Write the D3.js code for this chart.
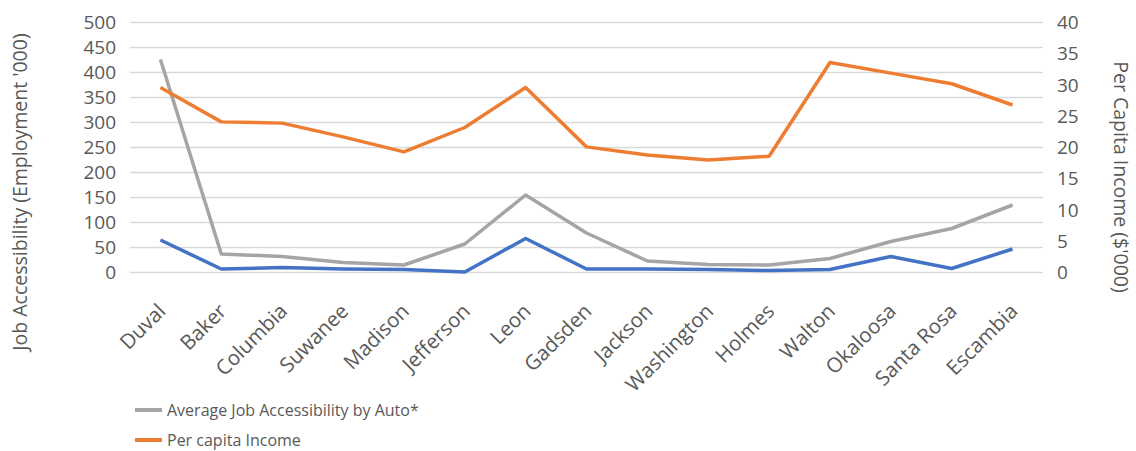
<!DOCTYPE html>
<html>
<head>
<meta charset="utf-8">
<script src="https://cdn.jsdelivr.net/npm/d3@7"></script>
<style>
    body { margin: 0; background: #fff; }
    svg { display: block; font-family: "Open Sans", sans-serif; }
</style>
</head>
<body>
<script>
const counties = ["Duval", "Baker", "Columbia", "Suwanee", "Madison", "Jefferson", "Leon", "Gadsden",
    "Jackson", "Washington", "Holmes", "Walton", "Okaloosa", "Santa Rosa", "Escambia"];
const autoAccess = [426, 37, 32, 20, 15, 57, 155, 79, 23, 16, 15, 28, 62, 88, 135];
const transitAccess = [65, 7, 10, 7, 6, 1, 68, 7, 7, 6, 4, 6, 32, 8, 47];
const income = [29.6, 24.1, 23.9, 21.7, 19.3, 23.2, 29.6, 20.1, 18.8, 18.0, 18.6, 33.6, 31.9, 30.2, 26.8];
const leftTicks = [0, 50, 100, 150, 200, 250, 300, 350, 400, 450, 500];
const rightTicks = [0, 5, 10, 15, 20, 25, 30, 35, 40];

const W = 1136, H = 451;
const margin = {left : 130, top : 22.5, right : 93, bottom : 178.5};
const width = W - margin.left - margin.right;
const height = H - margin.top - margin.bottom;

const textColor = "#595959";

const svg = d3.select("body").append("svg")
    .attr('width', W)
    .attr('height', H);

const g = svg.append("g")
    .attr('transform', `translate(${margin.left}, ${margin.top})`);

// Scales
const x = d3.scalePoint()
    .domain(counties)
    .range([0, width])
    .padding(0.5);

const yL = d3.scaleLinear().domain([0, 500]).range([height, 0]);
const yR = d3.scaleLinear().domain([0, 40]).range([height, 0]);

// Gridlines
g.append("g")
    .selectAll("line")
    .data(leftTicks)
    .enter().append("line")
        .attr('x1', 0)
        .attr('x2', width)
        .attr('y1', (d) => yL(d))
        .attr('y2', (d) => yL(d))
        .attr('stroke', '#d9d9d9')
        .attr('stroke-width', 1.3);

// Left axis
const leftAxis = g.append("g")
    .attr('transform', 'translate(-14, 0)')
    .call(d3.axisLeft(yL).tickValues(leftTicks).tickSize(0).tickPadding(0));
leftAxis.select(".domain").remove();
leftAxis.selectAll("text")
    .style('fill', textColor)
    .style('font-size', '19px')
    .style('font-family', '"Open Sans", sans-serif');

// Right axis
const rightAxis = g.append("g")
    .attr('transform', `translate(${width + 14}, 0)`)
    .call(d3.axisRight(yR).tickValues(rightTicks).tickSize(0).tickPadding(0));
rightAxis.select(".domain").remove();
rightAxis.selectAll("text")
    .style('fill', textColor)
    .style('font-size', '19px')
    .style('font-family', '"Open Sans", sans-serif');

// Category labels
const bottomAxis = g.append("g")
    .attr('transform', `translate(0, ${height})`)
    .call(d3.axisBottom(x).tickSize(0).tickPadding(0));
bottomAxis.select(".domain").remove();
bottomAxis.selectAll("text")
    .attr('x', 0)
    .attr('y', 0)
    .attr('dy', '0')
    .attr('transform', 'translate(6, 40) rotate(-45)')
    .style('text-anchor', 'end')
    .style('fill', textColor)
    .style('font-size', '20.5px')
    .style('font-family', '"Open Sans", sans-serif');

// Lines
const lineL = (vals) => d3.line()
    .x((d, i) => x(counties[i]))
    .y((d) => yL(d))(vals);
const lineR = d3.line()
    .x((d, i) => x(counties[i]))
    .y((d) => yR(d));

g.append("path")
    .attr('d', lineL(autoAccess))
    .attr('fill', 'none')
    .attr('stroke', '#a5a5a5')
    .attr('stroke-width', 3.5)
    .attr('stroke-linejoin', 'round');

g.append("path")
    .attr('d', lineL(transitAccess))
    .attr('fill', 'none')
    .attr('stroke', '#4472c4')
    .attr('stroke-width', 3.5)
    .attr('stroke-linejoin', 'round');

g.append("path")
    .attr('d', lineR(income))
    .attr('fill', 'none')
    .attr('stroke', '#ed7d31')
    .attr('stroke-width', 3.5)
    .attr('stroke-linejoin', 'round');

// Axis titles
svg.append("text")
    .attr('transform', 'translate(27, 192) rotate(-90)')
    .attr('text-anchor', 'middle')
    .style('fill', textColor)
    .style('font-size', '19.5px')
    .text("Job Accessibility (Employment '000)");

svg.append("text")
    .attr('transform', 'translate(1114, 177) rotate(90)')
    .attr('text-anchor', 'middle')
    .style('fill', textColor)
    .style('font-size', '19.5px')
    .text("Per Capita Income ($'000)");

// Legend
const legendItems = [
    {label : "Average Job Accessibility by Auto*", color : '#a5a5a5'},
    {label : "Per capita Income", color : '#ed7d31'}
];
const legend = svg.append("g")
    .attr('transform', 'translate(135, 410)');
legendItems.forEach((d, i) => {
    legend.append("line")
        .attr('x1', 0).attr('x2', 27)
        .attr('y1', i * 30).attr('y2', i * 30)
        .attr('stroke', d.color)
        .attr('stroke-width', 4);
    legend.append("text")
        .attr('x', 32)
        .attr('y', i * 30)
        .attr('dy', '0.35em')
        .style('fill', textColor)
        .style('font-size', '16px')
        .text(d.label);
});
</script>
</body>
</html>
